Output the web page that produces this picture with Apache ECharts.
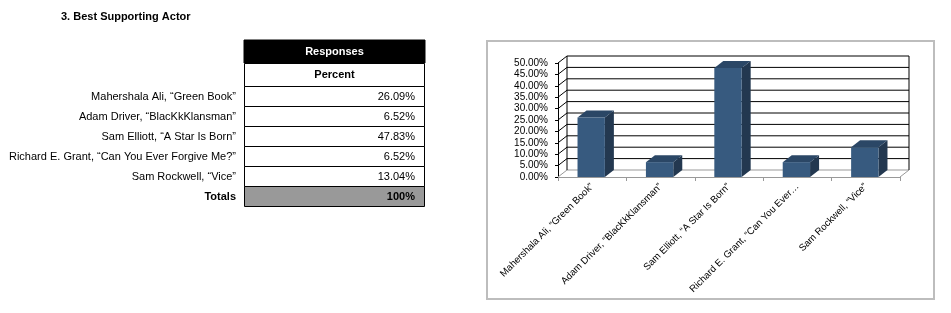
<!DOCTYPE html>
<html>
<head>
<meta charset="utf-8">
<script src="https://cdn.jsdelivr.net/npm/echarts@6/dist/echarts.min.js"></script>
<style>
  html, body { margin: 0; padding: 0; background: #fff; }
  #main { width: 951px; height: 313px; }
</style>
</head>
<body>
<div id="main"></div>
<script>
// data
var title = '3. Best Supporting Actor';
var actors = [
    'Mahershala Ali, “Green Book”',
    'Adam Driver, “BlacKkKlansman”',
    'Sam Elliott, “A Star Is Born”',
    'Richard E. Grant, “Can You Ever Forgive Me?”',
    'Sam Rockwell, “Vice”'
];
var percents = [26.09, 6.52, 47.83, 6.52, 13.04];
var totalLabel = '100%';
var yMin = 0, yMax = 50, yStep = 5;

var font = 'Liberation Sans, Arial, sans-serif';
var depthX = 9, depthY = -7;   // 3d offset of the back wall

var chart = echarts.init(document.getElementById('main'));

// left table, drawn with graphic elements
var tableX = 244, tableW = 181, rowH = 20;
var graphics = [
    { type: 'text', left: 61, top: 11, style: { text: title, font: 'bold 11px ' + font, fill: '#000' } },
    { type: 'rect', shape: { x: tableX, y: 40, width: tableW, height: 23 }, style: { fill: '#000', stroke: '#000' } },
    { type: 'text', x: tableX + tableW / 2, y: 52, style: { text: 'Responses', font: 'bold 11px ' + font, fill: '#fff', align: 'center', verticalAlign: 'middle' } },
    { type: 'rect', shape: { x: tableX + 0.5, y: 63.5, width: tableW - 1, height: 23 }, style: { fill: '#fff', stroke: '#000', lineWidth: 1 } },
    { type: 'text', x: tableX + tableW / 2, y: 75, style: { text: 'Percent', font: 'bold 11px ' + font, fill: '#000', align: 'center', verticalAlign: 'middle' } }
];
var rowTop = 86.5;
for (var i = 0; i < actors.length; i++) {
    var ry = rowTop + i * rowH;
    graphics.push({ type: 'rect', shape: { x: tableX + 0.5, y: ry, width: tableW - 1, height: rowH }, style: { fill: '#fff', stroke: '#000', lineWidth: 1 } });
    graphics.push({ type: 'text', x: 236, y: ry + rowH / 2, style: { text: actors[i], font: '11px ' + font, fill: '#000', align: 'right', verticalAlign: 'middle' } });
    graphics.push({ type: 'text', x: 415, y: ry + rowH / 2, style: { text: percents[i].toFixed(2) + '%', font: '11px ' + font, fill: '#000', align: 'right', verticalAlign: 'middle' } });
}
var ty = rowTop + actors.length * rowH;
graphics.push({ type: 'rect', shape: { x: tableX + 0.5, y: ty, width: tableW - 1, height: rowH }, style: { fill: '#999', stroke: '#000', lineWidth: 1 } });
graphics.push({ type: 'text', x: 236, y: ty + rowH / 2, style: { text: 'Totals', font: 'bold 11px ' + font, fill: '#000', align: 'right', verticalAlign: 'middle' } });
graphics.push({ type: 'text', x: 415, y: ty + rowH / 2, style: { text: totalLabel, font: 'bold 11px ' + font, fill: '#000', align: 'right', verticalAlign: 'middle' } });

// chart frame
graphics.push({ type: 'rect', z: -10, shape: { x: 487, y: 41, width: 447, height: 258 }, style: { fill: '#fff', stroke: '#bdbdbd', lineWidth: 2 } });

// back wall, side wall and floor
function renderWalls(params, api) {
    var cs = params.coordSys;
    var x0 = cs.x, x1 = cs.x + cs.width;
    var children = [];
    for (var v = yMin; v <= yMax + 1e-9; v += yStep) {
        var y = api.coord([0, v])[1];
        var col = v === yMin ? '#999' : '#000';
        children.push({ type: 'line', shape: { x1: x0 + depthX, y1: y + depthY, x2: x1 + depthX, y2: y + depthY }, style: { stroke: col, lineWidth: 1 } });
        children.push({ type: 'line', shape: { x1: x0, y1: y, x2: x0 + depthX, y2: y + depthY }, style: { stroke: col, lineWidth: 1 } });
    }
    var yTop = api.coord([0, yMax])[1], yBot = api.coord([0, yMin])[1];
    children.push({ type: 'line', shape: { x1: x0 + depthX, y1: yTop + depthY, x2: x0 + depthX, y2: yBot + depthY }, style: { stroke: '#000', lineWidth: 1 } });
    children.push({ type: 'line', shape: { x1: x1 + depthX, y1: yTop + depthY, x2: x1 + depthX, y2: yBot + depthY }, style: { stroke: '#000', lineWidth: 1 } });
    children.push({ type: 'line', shape: { x1: x1, y1: yBot, x2: x1 + depthX, y2: yBot + depthY }, style: { stroke: '#999', lineWidth: 1 } });
    return { type: 'group', children: children };
}

// 3d bars
function renderBar(params, api) {
    var base = api.coord([api.value(0), 0]);
    var top = api.coord([api.value(0), api.value(1)]);
    var w = api.size([1, 0])[0] * 0.4;
    var l = base[0] - w / 2 - 1, r = l + w;
    return {
        type: 'group',
        children: [
            { type: 'polygon', shape: { points: [[r, top[1]], [r + depthX, top[1] + depthY], [r + depthX, base[1] + depthY], [r, base[1]]] }, style: { fill: '#233850' } },
            { type: 'polygon', shape: { points: [[l, top[1]], [l + depthX, top[1] + depthY], [r + depthX, top[1] + depthY], [r, top[1]]] }, style: { fill: '#2b4766' } },
            { type: 'rect', shape: { x: l, y: top[1], width: w, height: base[1] - top[1] }, style: { fill: '#375a7f' } }
        ]
    };
}

var option = {
    animation: false,
    graphic: graphics,
    grid: { left: 558, right: 51, top: 63, bottom: 136, containLabel: false },
    xAxis: {
        type: 'category',
        data: actors,
        axisLine: { show: true, lineStyle: { color: '#999' } },
        axisTick: { show: true, length: 4, lineStyle: { color: '#999' } },
        axisLabel: {
            interval: 0, rotate: 45, margin: 8,
            fontFamily: font, fontSize: 9.7, color: '#000',
            formatter: function (s) { return s.length > 32 ? s.slice(0, 31) + '…' : s; }
        },
        splitLine: { show: false }
    },
    yAxis: {
        type: 'value',
        min: yMin, max: yMax, interval: yStep,
        axisLine: { show: true, lineStyle: { color: '#000' } },
        axisTick: { show: true, length: 3, lineStyle: { color: '#000' } },
        axisLabel: {
            margin: 10, fontFamily: font, fontSize: 10, color: '#000',
            formatter: function (v) { return v.toFixed(2) + '%'; }
        },
        splitLine: { show: false }
    },
    series: [
        { type: 'custom', z: 1, renderItem: renderWalls, data: [[0, 0]], silent: true },
        {
            type: 'custom', z: 2, renderItem: renderBar,
            data: percents.map(function (p, i) { return [i, p]; })
        }
    ]
};

chart.setOption(option);
</script>
</body>
</html>
